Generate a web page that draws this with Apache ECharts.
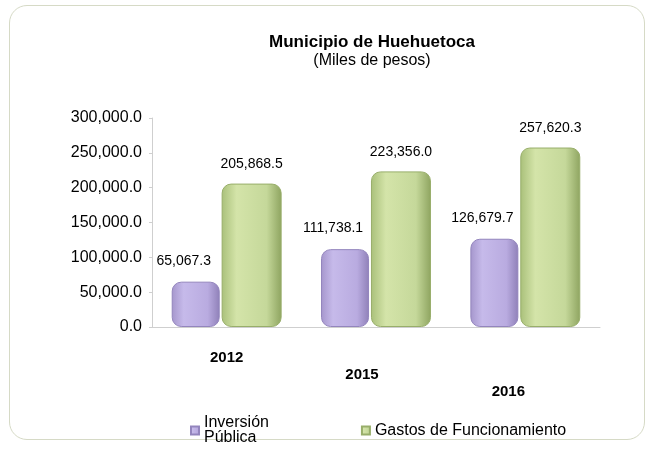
<!DOCTYPE html>
<html>
<head>
<meta charset="utf-8">
<script src="https://cdn.jsdelivr.net/npm/echarts@6/dist/echarts.min.js"></script>
<style>
	html, body { margin: 0; padding: 0; background: #fff; }
	#frame {
		position: absolute; left: 9px; top: 5px; width: 634px; height: 433px;
		border: 1px solid #d6dac6; border-radius: 18px; background: #fff;
	}
	#chart { position: absolute; left: 0; top: 0; width: 655px; height: 449px; }
</style>
</head>
<body>
<div id="frame"></div>
<div id="chart"></div>
<script>
	// datos
	const years = ['2012', '2015', '2016'];
	const inversion = [65067.3, 111738.1, 126679.7];
	const gastos = [205868.5, 223356.0, 257620.3];
	const seriesNames = ['Inversión\nPública', 'Gastos de Funcionamiento'];

	const fmt = v => v.toLocaleString('en-US', {minimumFractionDigits: 1, maximumFractionDigits: 1});

	const purple = new echarts.graphic.LinearGradient(0, 0, 1, 0, [
		{offset: 0, color: '#a596cc'},
		{offset: 0.25, color: '#c6baea'},
		{offset: 0.75, color: '#b9abe0'},
		{offset: 1, color: '#8f80b8'}
	]);
	const green = new echarts.graphic.LinearGradient(0, 0, 1, 0, [
		{offset: 0, color: '#a9c07a'},
		{offset: 0.25, color: '#d4e4a9'},
		{offset: 0.75, color: '#c5d89a'},
		{offset: 1, color: '#8ea460'}
	]);

	// etiquetas del eje desplazadas como en la perspectiva original
	const yearLabels = [
		{value: years[0], textStyle: {padding: [0, 0, 0, 0]}},
		{value: years[1], textStyle: {padding: [0, 28, 0, 0]}},
		{value: years[2], textStyle: {padding: [0, 34, 0, 0]}}
	];

	let chart = echarts.init(document.getElementById('chart'));
	const option = {
		textStyle: {fontFamily: 'Liberation Sans, Arial, sans-serif'},
		title: {
			text: 'Municipio de Huehuetoca',
			subtext: '(Miles de pesos)',
			left: 367,
			textAlign: 'center',
			top: 29,
			itemGap: 2,
			textStyle: {fontSize: 17, fontWeight: 'bold', color: '#000'},
			subtextStyle: {fontSize: 16, color: '#000'}
		},
		legend: {
			data: seriesNames,
			left: 185,
			top: 410,
			itemWidth: 8,
			itemHeight: 8,
			itemGap: 92,
			textStyle: {fontSize: 16, color: '#000', lineHeight: 15},
			icon: 'rect'
		},
		grid: {left: 152, right: 55, top: 118, bottom: 122},
		xAxis: {
			type: 'category',
			data: yearLabels,
			axisLine: {lineStyle: {color: '#cfcfcf'}},
			axisTick: {show: false},
			axisLabel: {
				margin: 22,
				fontSize: 15,
				fontWeight: 'bold',
				color: '#000',
				lineHeight: 17,
				formatter: (v, i) => '\n'.repeat(i) + v
			}
		},
		yAxis: {
			type: 'value',
			min: 0,
			max: 300000,
			interval: 50000,
			axisLine: {show: true, lineStyle: {color: '#cfcfcf'}},
			axisTick: {show: true, length: 3, lineStyle: {color: '#cfcfcf'}},
			splitLine: {show: false},
			axisLabel: {fontSize: 16, color: '#000', margin: 10, formatter: v => fmt(v)}
		},
		series: [
			{
				name: seriesNames[0],
				type: 'bar',
				data: inversion,
				barWidth: 48,
				barGap: '4%',
				itemStyle: {color: purple, borderRadius: 9, borderColor: '#9385bd', borderWidth: 1},
				label: {show: true, position: 'top', distance: 14, offset: [-12, 0], fontSize: 14, color: '#000', formatter: p => fmt(p.value)}
			},
			{
				name: seriesNames[1],
				type: 'bar',
				data: gastos,
				barWidth: 60,
				itemStyle: {color: green, borderRadius: 9, borderColor: '#98ae6a', borderWidth: 1},
				label: {show: true, position: 'top', distance: 12, fontSize: 14, color: '#000', formatter: p => fmt(p.value)}
			}
		]
	};
	chart.setOption(option);
</script>
</body>
</html>
